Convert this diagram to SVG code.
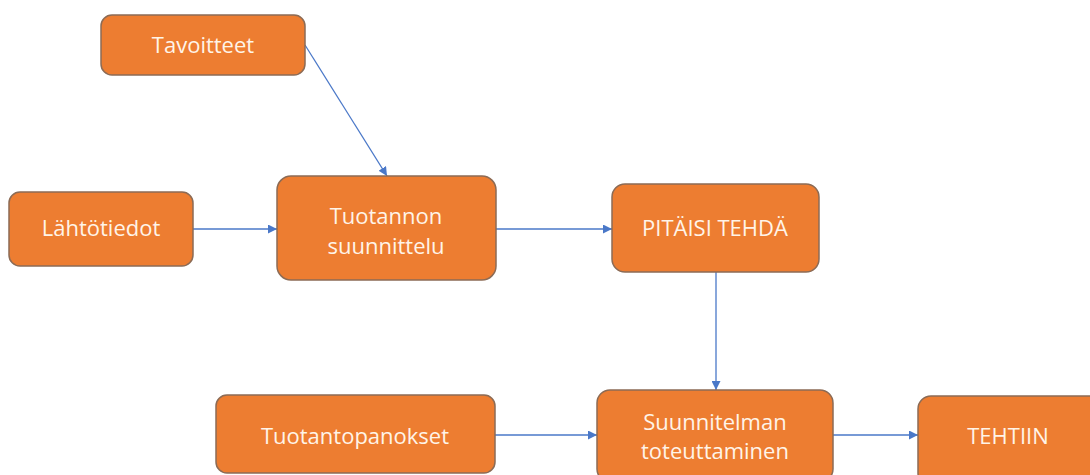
<svg xmlns="http://www.w3.org/2000/svg" width="1090" height="475" viewBox="0 0 1090 475">
  <style>
    .box { fill: #ED7D31; stroke: #8C6B55; stroke-width: 1.5; }
    .lbl { fill: #FFF4E8; font-family: "Open Sans", "Liberation Sans", sans-serif; font-size: 22px; text-anchor: middle; }
    .edge { stroke: #4A78C8; stroke-width: 1.3; fill: none; marker-end: url(#arrow); }
  </style>
  <defs>
    <marker id="arrow" viewBox="0 0 10 10" refX="10" refY="5" markerWidth="9" markerHeight="9" markerUnits="userSpaceOnUse" orient="auto">
      <path d="M0,0 L10,5 L0,10 z" fill="#4A78C8"/>
    </marker>
  </defs>
  <rect width="1090" height="475" fill="#FFFFFF"/>

  <g id="connectors">
    <line class="edge" x1="305" y1="45" x2="387" y2="176"/>
    <line class="edge" x1="193" y1="229" x2="277" y2="229"/>
    <line class="edge" x1="496" y1="229" x2="612" y2="229"/>
    <line class="edge" x1="716" y1="272" x2="716" y2="390"/>
    <line class="edge" x1="495" y1="435" x2="597" y2="435"/>
    <line class="edge" x1="833" y1="435" x2="918" y2="435"/>
  </g>

  <g id="tavoitteet">
    <rect class="box" x="101" y="15" width="204" height="60" rx="11"/>
    <text class="lbl" x="203" y="53">Tavoitteet</text>
  </g>
  <g id="lahtotiedot">
    <rect class="box" x="9" y="192" width="184" height="74" rx="11"/>
    <text class="lbl" x="101" y="236">Lähtötiedot</text>
  </g>
  <g id="tuotannon-suunnittelu">
    <rect class="box" x="277" y="176" width="219" height="104" rx="14"/>
    <text class="lbl" x="386" y="224">Tuotannon</text>
    <text class="lbl" x="386" y="254">suunnittelu</text>
  </g>
  <g id="pitaisi-tehda">
    <rect class="box" x="612" y="184" width="207" height="88" rx="13"/>
    <text class="lbl" x="715" y="236">PITÄISI TEHDÄ</text>
  </g>
  <g id="tuotantopanokset">
    <rect class="box" x="216" y="395" width="279" height="78" rx="11"/>
    <text class="lbl" x="355" y="444">Tuotantopanokset</text>
  </g>
  <g id="suunnitelman-toteuttaminen">
    <rect class="box" x="597" y="390" width="236" height="92" rx="13"/>
    <text class="lbl" x="715" y="430">Suunnitelman</text>
    <text class="lbl" x="715" y="459">toteuttaminen</text>
  </g>
  <g id="tehtiin">
    <rect class="box" x="918" y="396" width="185" height="90" rx="13"/>
    <text class="lbl" x="1008" y="444">TEHTIIN</text>
  </g>
</svg>
